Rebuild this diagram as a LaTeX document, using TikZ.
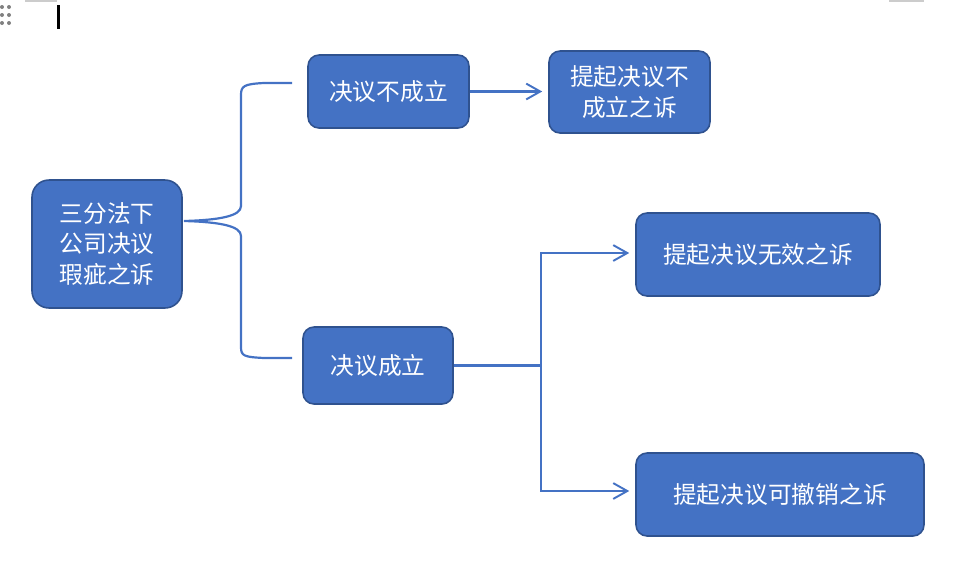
\documentclass[tikz,border=0pt]{standalone}
\usepackage{fontspec}
\newfontfamily\cjk{Noto Sans CJK SC}
\usepackage{xcolor}
\usetikzlibrary{arrows.meta,positioning,calc}

\definecolor{boxblue}{HTML}{4472C4}
\definecolor{boxedge}{HTML}{2F528F}
\tikzset{
  box/.style={draw=boxedge,line width=0.9pt,fill=boxblue,text=white,rounded corners=0.22cm,
    align=center,inner sep=0pt,font=\cjk\fontsize{13.5}{17.6}\selectfont},
  link/.style={draw=boxblue,line width=1.25pt},
  arr/.style={link,-{Straight Barb[length=8pt,width=9pt,line width=1.1pt]},shorten >=0.12cm}
}

\begin{document}
\begin{tikzpicture}[x=0.02cm,y=-0.02cm]
\useasboundingbox (0,0) rectangle (958,576);
% screenshot marks along the top edge
\foreach \i in {7,15,23} {\fill[gray] (2,\i) circle (2); \fill[gray] (9,\i) circle (2);}
\draw[gray!40,line width=0.6pt] (25,1)--(57,1); \draw[gray!40,line width=0.6pt] (889,1)--(924,1);
\draw[black,line width=1.2pt] (58.5,5)--(58.5,29);

\node[box,rounded corners=0.34cm,minimum width=3cm,minimum height=2.56cm] (root) at (107,244) {三分法下\\公司决议\\瑕疵之诉};
\node[box,minimum width=3.22cm,minimum height=1.46cm] (fail) at (388.5,91.5) {决议不成立};
\node[box,minimum width=3.22cm,minimum height=1.64cm] (failsuit) at (629.5,92) {提起决议不\\成立之诉};
\node[box,minimum width=3cm,minimum height=1.54cm] (pass) at (378,365.5) {决议成立};
\node[box,minimum width=4.88cm,minimum height=1.66cm] (voidsuit) at (758,254.5) {提起决议无效之诉};
\node[box,minimum width=5.76cm,minimum height=1.66cm] (undosuit) at (780,494.5) {提起决议可撤销之诉};

% brace from the root to both outcomes
\coordinate (tip) at (184,221); \coordinate (armtop) at (292,83); \coordinate (armbot) at (292,358);
\draw[link] (armtop) -- (264,83) .. controls (244,84) and (241,86) .. (241,95) -- (241,206)
  .. controls (241,216) and (220,220) .. (tip)
  .. controls (220,222) and (241,226) .. (241,236) -- (241,347)
  .. controls (241,356) and (244,357) .. (264,358) -- (armbot);

\draw[arr] (fail.east) -- (fail.east -| failsuit.west);
\coordinate (fork) at (541,365.5);
\draw[link] (pass.east) -- (fork);
\draw[arr] (fork) |- ($(voidsuit.west)+(0,-1.5)$);
\draw[arr] (fork) |- ($(undosuit.west)+(0,-3.5)$);
\end{tikzpicture}
\end{document}
